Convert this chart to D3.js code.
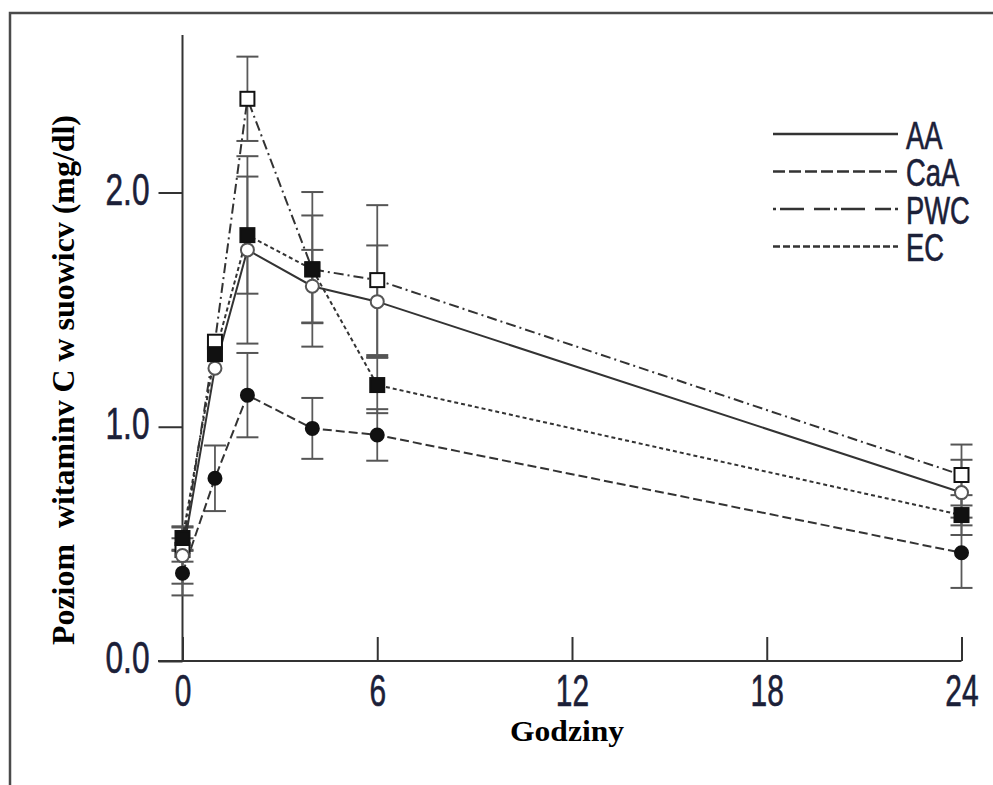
<!DOCTYPE html>
<html>
<head>
<meta charset="utf-8">
<script src="https://cdn.jsdelivr.net/npm/d3@7"></script>
<style>
  body { margin: 0; background: #fff; }
  svg { display: block; }
</style>
</head>
<body>
<script>
// hours after intake
var hours = [0, 1, 2, 4, 6, 24];

// mean serum vitamin C (mg/dl) and error bar half-widths
var aaMean  = [0.45, 1.25, 1.755, 1.60, 1.534, 0.719];
var aaErr   = [0.12, 0, 0.40, 0.155, 0.24, 0.14];
var caaMean = [0.375, 0.78, 1.135, 0.993, 0.965, 0.462];
var caaErr  = [0.095, 0.14, 0.18, 0.13, 0.11, 0.15];
var pwcMean = [0.474, 1.363, 2.40, 1.672, 1.626, 0.794];
var pwcErr  = [0.05, 0, 0.18, 0.23, 0.32, 0.13];
var ecMean  = [0.525, 1.31, 1.818, 1.672, 1.178, 0.623];
var ecErr   = [0.05, 0, 0.25, 0.33, 0.12, 0.085];

var seriesNames = ["AA", "CaA", "PWC", "EC"];
var xTicks = [0, 6, 12, 18, 24];
var yTicks = [0, 1, 2];

var width = 993, height = 785;
var svg = d3.select("body").append("svg")
  .attr("width", width).attr("height", height);

// frame (cut off at right and bottom like the scan)
svg.append("rect")
  .attr("x", 10).attr("y", 13)
  .attr("width", width + 20).attr("height", height + 20)
  .attr("fill", "none").attr("stroke", "#4a4a4a").attr("stroke-width", 2.5);

var x = d3.scaleLinear().domain([0, 24]).range([182.5, 961.5]);
var y = d3.scaleLinear().domain([0, 2]).range([661, 192.5]);

var condensed = "'Liberation Sans Narrow', 'Liberation Sans', Arial, sans-serif";
var labelColor = "#1b2038";

// condensed look: scale a text horizontally around its anchor
function squeeze(sel, k) {
  sel.each(function () {
    var t = d3.select(this);
    var x0 = +t.attr("x") || 0;
    t.attr("transform", "translate(" + x0 + ",0) scale(" + k + ",1) translate(" + (-x0) + ",0)");
  });
}

// y axis
var gy = svg.append("g").attr("transform", "translate(" + x(0) + ",0)")
  .call(d3.axisLeft(y).tickValues(yTicks).tickSize(24).tickPadding(9)
    .tickFormat(d3.format(".1f")));
gy.select(".domain").remove();
gy.selectAll(".tick line").attr("stroke", "#333").attr("stroke-width", 2);
gy.selectAll(".tick text")
  .attr("font-family", condensed).attr("font-size", 44)
  .attr("fill", labelColor).attr("dy", "0.27em")
  .attr("stroke", labelColor).attr("stroke-width", 0.6)
  .call(squeeze, 0.72);
svg.append("line")
  .attr("x1", x(0)).attr("x2", x(0)).attr("y1", 35).attr("y2", y(0))
  .attr("stroke", "#333").attr("stroke-width", 2);

// x axis, ticks pointing inward
var gx = svg.append("g").attr("transform", "translate(0," + y(0) + ")")
  .call(d3.axisBottom(x).tickValues(xTicks).tickSizeInner(-24).tickSizeOuter(0)
    .tickPadding(14));
gx.select(".domain").remove();
gx.selectAll(".tick line").attr("stroke", "#333").attr("stroke-width", 2);
gx.selectAll(".tick text")
  .attr("font-family", condensed).attr("font-size", 44)
  .attr("fill", labelColor)
  .attr("stroke", labelColor).attr("stroke-width", 0.6)
  .call(squeeze, 0.68);
svg.append("line")
  .attr("x1", 158).attr("x2", x(24)).attr("y1", y(0)).attr("y2", y(0))
  .attr("stroke", "#333").attr("stroke-width", 2);

// axis titles
svg.append("text")
  .attr("transform", "translate(74,380) rotate(-90)")
  .attr("text-anchor", "middle")
  .attr("font-family", "'Liberation Serif', 'Times New Roman', serif")
  .attr("font-weight", "bold").attr("font-size", 31)
  .attr("textLength", 530).attr("lengthAdjust", "spacingAndGlyphs")
  .attr("xml:space", "preserve")
  .text("Poziom  witaminv C w suowicv (mg/dl)");

svg.append("text")
  .attr("x", 567).attr("y", 741)
  .attr("text-anchor", "middle")
  .attr("font-family", "'Liberation Serif', 'Times New Roman', serif")
  .attr("font-weight", "bold").attr("font-size", 30)
  .attr("textLength", 114).attr("lengthAdjust", "spacingAndGlyphs")
  .text("Godziny");

// series
var series = [
  { name: "PWC", mean: pwcMean, err: pwcErr, dash: "10,4,2,4", shape: "square", fill: "#fff" },
  { name: "AA",  mean: aaMean,  err: aaErr,  dash: null,       shape: "circle", fill: "#fff" },
  { name: "CaA", mean: caaMean, err: caaErr, dash: "9,4",      shape: "circle", fill: "#111" },
  { name: "EC",  mean: ecMean,  err: ecErr,  dash: "4,3",      shape: "square", fill: "#111" }
];

var line = d3.line().x(function (d) { return x(d.h); }).y(function (d) { return y(d.v); });

series.forEach(function (s) {
  s.points = hours.map(function (h, i) { return { h: h, v: s.mean[i], e: s.err[i] }; });
});

// error bars
series.forEach(function (s) {
  var g = svg.append("g");
  var pts = s.points.filter(function (d) { return d.e > 0; });
  g.selectAll("line.bar").data(pts).enter().append("line")
    .attr("x1", function (d) { return x(d.h); }).attr("x2", function (d) { return x(d.h); })
    .attr("y1", function (d) { return y(d.v + d.e); }).attr("y2", function (d) { return y(d.v - d.e); })
    .attr("stroke", "#5a5a5a").attr("stroke-width", 1.8);
  [1, -1].forEach(function (sign) {
    g.selectAll("line.cap" + sign).data(pts).enter().append("line")
      .attr("x1", function (d) { return x(d.h) - 11; }).attr("x2", function (d) { return x(d.h) + 11; })
      .attr("y1", function (d) { return y(d.v + sign * d.e); })
      .attr("y2", function (d) { return y(d.v + sign * d.e); })
      .attr("stroke", "#555").attr("stroke-width", 2);
  });
});

// lines
series.forEach(function (s) {
  svg.append("path").datum(s.points)
    .attr("d", line).attr("fill", "none")
    .attr("stroke", "#333").attr("stroke-width", 2)
    .attr("stroke-dasharray", s.dash);
});

// markers
series.forEach(function (s) {
  var g = svg.append("g");
  if (s.shape === "square") {
    g.selectAll("rect").data(s.points).enter().append("rect")
      .attr("x", function (d) { return x(d.h) - 7; })
      .attr("y", function (d) { return y(d.v) - 7; })
      .attr("width", 14).attr("height", 14)
      .attr("fill", s.fill).attr("stroke", "#111").attr("stroke-width", 2);
  } else {
    g.selectAll("circle").data(s.points).enter().append("circle")
      .attr("cx", function (d) { return x(d.h); })
      .attr("cy", function (d) { return y(d.v); })
      .attr("r", 6.5)
      .attr("fill", s.fill).attr("stroke", s.fill === "#fff" ? "#555" : "#111")
      .attr("stroke-width", 2);
  }
});

// legend
var legendDash = { "AA": null, "CaA": "12,4", "PWC": "3,4,24,10,16,4", "EC": "7,3" };
var leg = svg.append("g");
seriesNames.forEach(function (name, i) {
  var ly = 134 + i * 37.5;
  leg.append("line")
    .attr("x1", 773).attr("x2", 898).attr("y1", ly).attr("y2", ly)
    .attr("stroke", "#333").attr("stroke-width", 2.5)
    .attr("stroke-dasharray", legendDash[name]);
  leg.append("text")
    .attr("x", 906).attr("y", ly + 15)
    .attr("font-family", condensed).attr("font-size", 38)
    .attr("fill", labelColor)
    .attr("stroke", labelColor).attr("stroke-width", 0.6)
    .text(name)
    .call(squeeze, 0.72);
});
</script>
</body>
</html>
